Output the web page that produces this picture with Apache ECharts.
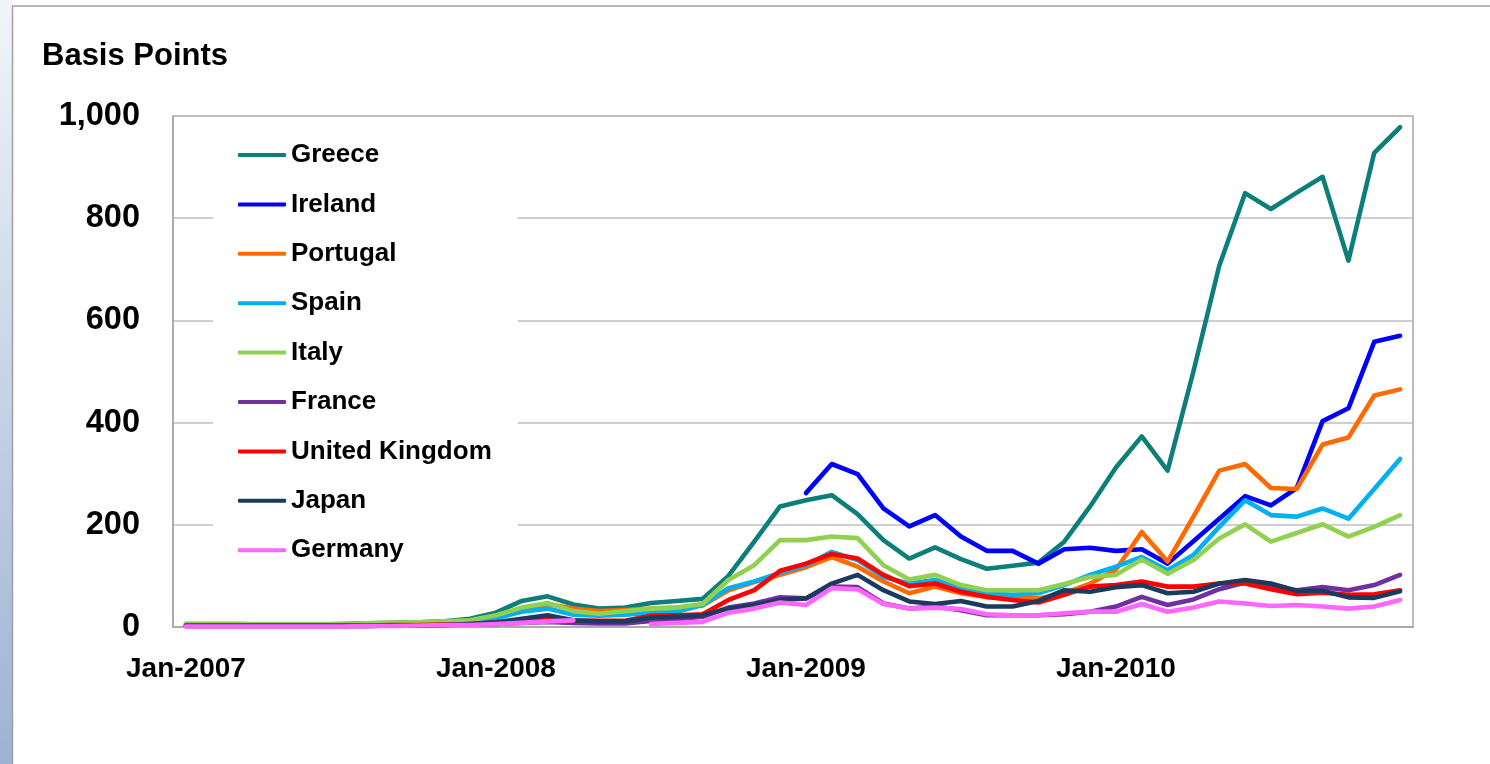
<!DOCTYPE html>
<html>
<head>
<meta charset="utf-8">
<title>Basis Points</title>
<script src="https://cdn.jsdelivr.net/npm/echarts@6/dist/echarts.min.js"></script>
<style>
    html, body { margin: 0; padding: 0; background: #fff; }
    #myEchart { width: 1490px; height: 764px; }
</style>
</head>
<body>
<div id="myEchart"></div>
<script>
// month categories Jan-2007 .. Dec-2010
var monthNames = ['Jan', 'Feb', 'Mar', 'Apr', 'May', 'Jun', 'Jul', 'Aug', 'Sep', 'Oct', 'Nov', 'Dec'];
var years = [2007, 2008, 2009, 2010];
var months = [];
for (var y = 0; y < years.length; y++) {
    for (var m = 0; m < monthNames.length; m++) {
        months.push(monthNames[m] + '-' + years[y]);
    }
}

var yTicks = [0, 200, 400, 600, 800, 1000];

// values in basis points, one per month
var greece = [6, 6, 6, 5, 5, 5, 6, 7, 8, 9, 11, 16,
    28, 51, 60, 44, 36, 38, 47, 51, 55, 100, 167, 236,
    248, 258, 221, 170, 134, 156, 133, 114, 120, 126, 167, 236,
    312, 373, 306, 500, 707, 849, 818, 850, 881, 717, 928, 978];
var ireland = [null, null, null, null, null, null, null, null, null, null, null, null,
    null, null, null, null, null, null, null, null, null, null, null, null,
    262, 319, 299, 232, 197, 219, 177, 149, 149, 124, 152, 155,
    149, 152, 124, 168, 212, 256, 238, 272, 403, 428, 558, 570];
var portugal = [3, 3, 3, 3, 3, 3, 3, 4, 4, 5, 6, 9,
    20, 35, 45, 36, 31, 33, 36, 38, 42, 72, 88, 102,
    117, 137, 118, 89, 66, 79, 66, 59, 56, 56, 66, 85,
    112, 186, 128, 216, 306, 319, 272, 270, 357, 371, 453, 465];
var spain = [3, 3, 3, 3, 3, 3, 3, 4, 4, 5, 6, 8,
    17, 30, 36, 24, 22, 24, 28, 30, 43, 76, 89, 106,
    121, 147, 131, 98, 85, 92, 76, 66, 63, 66, 82, 102,
    118, 137, 111, 141, 196, 248, 219, 216, 232, 212, 270, 329];
var italy = [6, 6, 6, 6, 6, 6, 6, 7, 8, 9, 11, 13,
    23, 38, 47, 31, 26, 31, 36, 38, 45, 92, 121, 170,
    170, 177, 174, 121, 93, 102, 82, 72, 72, 72, 84, 98,
    102, 132, 104, 131, 173, 201, 167, 184, 201, 177, 196, 219];
var france = [2, 2, 2, 2, 2, 2, 2, 2, 3, 3, 4, 5,
    6, 8, 10, 8, 7, 7, 12, 15, 20, 38, 46, 58,
    56, 79, 78, 46, 36, 40, 33, 23, 23, 23, 25, 30,
    40, 59, 43, 54, 74, 87, 78, 72, 78, 72, 82, 102];
var uk = [3, 3, 3, 3, 3, 3, 3, 3, 4, 4, 5, 6,
    8, 12, 15, 12, 12, 12, 22, 23, 25, 53, 72, 110,
    124, 143, 134, 102, 80, 85, 69, 59, 53, 48, 63, 79,
    82, 89, 79, 79, 85, 85, 74, 64, 67, 63, 64, 72];
var japan = [2, 2, 2, 2, 2, 2, 2, 2, 3, 3, 4, 6,
    9, 16, 23, 13, 11, 11, 18, 20, 23, 36, 43, 53,
    56, 85, 102, 72, 50, 45, 51, 40, 40, 51, 72, 69,
    78, 82, 66, 69, 85, 92, 85, 71, 71, 58, 57, 70];
var germany = [1, 1, 1, 1, 1, 1, 1, 2, 2, 3, 4, 4,
    6, 8, 11, 13, null, null, 6, 8, 10, 28, 36, 48,
    43, 76, 74, 45, 36, 38, 35, 25, 23, 23, 27, 30,
    30, 45, 30, 38, 50, 46, 41, 43, 40, 36, 40, 53];

var countries = ['Greece', 'Ireland', 'Portugal', 'Spain', 'Italy', 'France', 'United Kingdom', 'Japan', 'Germany'];
var values = [greece, ireland, portugal, spain, italy, france, uk, japan, germany];
var colors = ['#0c7f7a', '#0000ff', '#ff6a00', '#00b0f0', '#92d050', '#7030a0', '#ff0000', '#1b3a5e', '#ff66ff'];

var font = '"Liberation Sans", Arial, sans-serif';

var chartPaper = echarts.init(document.getElementById('myEchart'));

var series = [];
for (var i = 0; i < countries.length; i++) {
    series.push({
        name: countries[i],
        type: 'line',
        data: values[i],
        symbol: 'none',
        lineStyle: {width: 4.6, color: colors[i], cap: 'round', join: 'round'},
        itemStyle: {color: colors[i]}
    });
}

var option = {
    backgroundColor: '#fff',
    animation: false,
    color: colors,
    title: {
        text: 'Basis Points',
        left: 42,
        top: 41,
        padding: 0,
        textStyle: {fontFamily: font, fontSize: 31, fontWeight: 'bold', color: '#000', lineHeight: 31}
    },
    legend: {
        orient: 'vertical',
        left: 213,
        top: 130,
        padding: [10, 26, 10, 25],
        backgroundColor: '#fff',
        itemWidth: 48,
        itemHeight: 4,
        itemGap: 19.4,
        icon: 'roundRect',
        data: countries,
        textStyle: {fontFamily: font, fontSize: 26, fontWeight: 'bold', color: '#000', lineHeight: 30}
    },
    grid: {
        left: 173,
        right: 77,
        top: 116,
        bottom: 137,
        show: true,
        borderColor: '#a6a6a6',
        borderWidth: 1.5,
        containLabel: false
    },
    xAxis: {
        type: 'category',
        data: months,
        boundaryGap: true,
        axisLine: {lineStyle: {color: '#a6a6a6', width: 1.5}},
        axisTick: {interval: 11, length: 8, lineStyle: {color: '#a6a6a6', width: 1.5}},
        axisLabel: {
            interval: 11,
            margin: 28,
            fontFamily: font,
            fontSize: 28,
            fontWeight: 'bold',
            color: '#000',
            lineHeight: 28
        },
        splitLine: {show: false}
    },
    yAxis: {
        type: 'value',
        min: yTicks[0],
        max: yTicks[yTicks.length - 1],
        interval: 200,
        axisLine: {show: true, lineStyle: {color: '#a6a6a6', width: 1.5}},
        axisTick: {show: false},
        axisLabel: {
            margin: 33,
            fontFamily: font,
            fontSize: 32.5,
            fontWeight: 'bold',
            color: '#000',
            formatter: function (v) {
                return String(v).replace(/\B(?=(\d{3})+(?!\d))/g, ',');
            }
        },
        splitLine: {lineStyle: {color: '#bfbfbf', width: 1.5}}
    },
    graphic: [
        {
            type: 'rect',
            silent: true,
            z: -10,
            shape: {x: 0, y: 0, width: 12, height: 764},
            style: {
                fill: new echarts.graphic.LinearGradient(0, 0, 0, 1, [
                    {offset: 0, color: '#f2f5fa'},
                    {offset: 1, color: '#9db2d3'}
                ])
            }
        },
        {
            type: 'line',
            silent: true,
            shape: {x1: 12.5, y1: 6, x2: 12.5, y2: 764},
            style: {stroke: '#a0a0a0', lineWidth: 1.5}
        },
        {
            type: 'line',
            silent: true,
            shape: {x1: 12, y1: 6, x2: 1490, y2: 6},
            style: {stroke: '#a0a0a0', lineWidth: 1.5}
        }
    ],
    series: series
};

chartPaper.setOption(option);

window.onresize = function () {
    chartPaper.resize();
};
</script>
</body>
</html>
